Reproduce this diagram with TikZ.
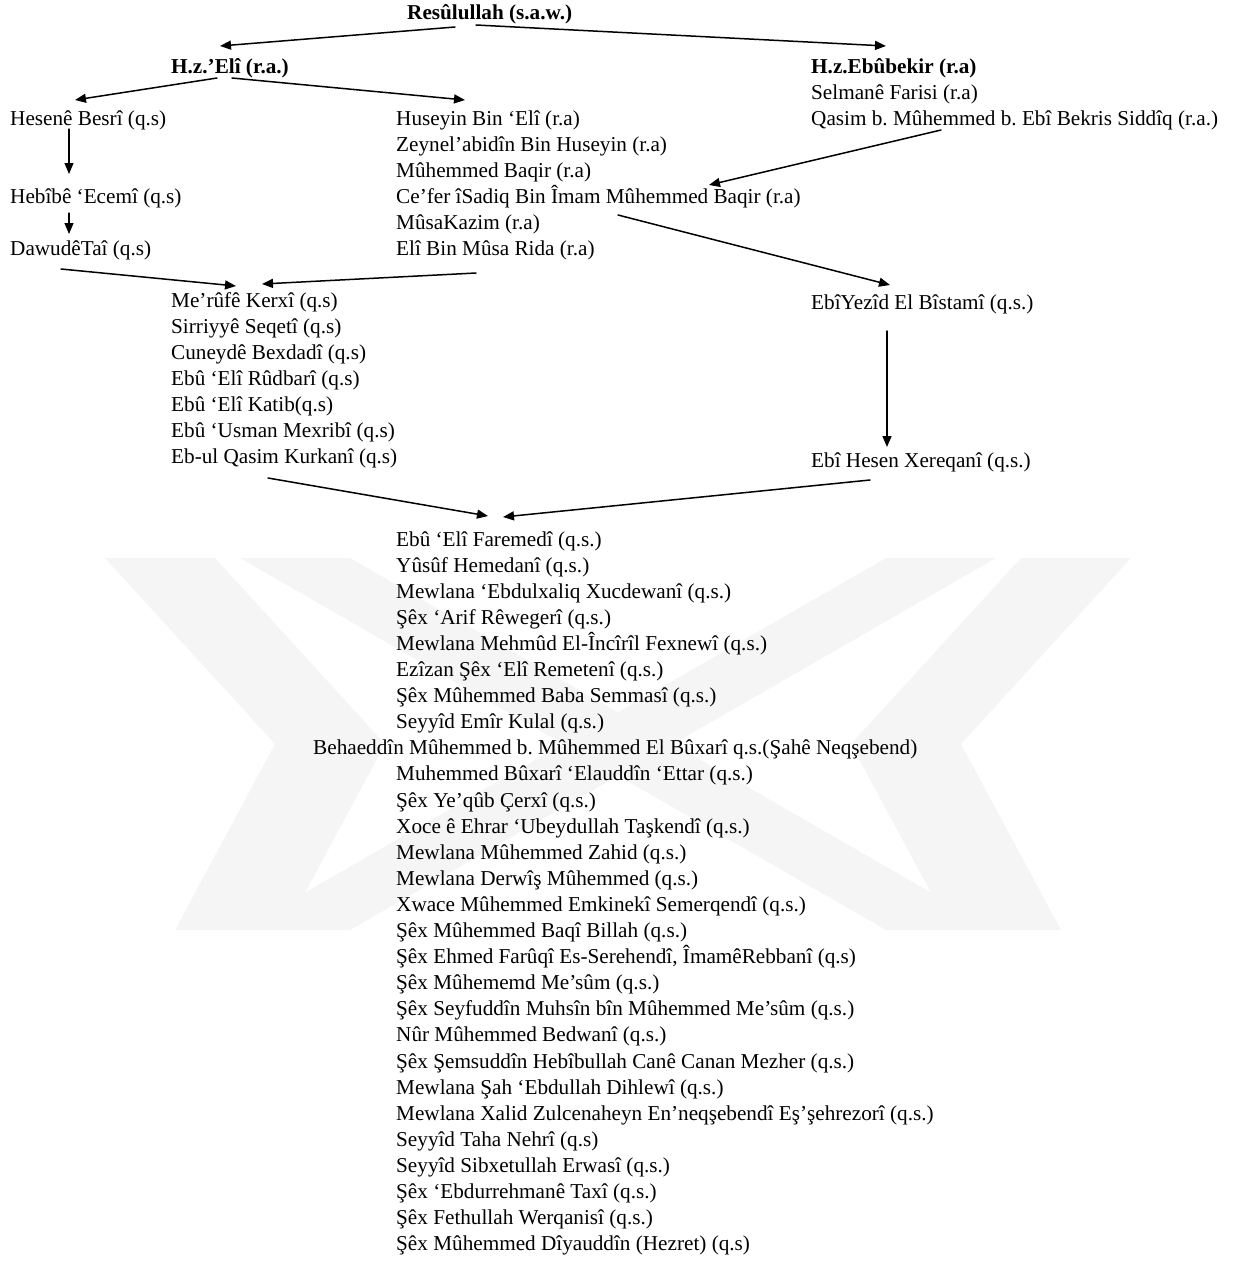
\documentclass[tikz,border=0pt]{standalone}
\usepackage{fontspec}
\setmainfont{Liberation Serif}
\usetikzlibrary{arrows.meta}
\frenchspacing

\begin{document}
\begin{tikzpicture}[x=1pt, y=-1pt, line cap=round, line join=round,
  entry/.style={anchor=base west, inner sep=0pt, align=left,
    font=\fontsize{21.2}{26.1}\selectfont},
  head/.style={entry, font=\fontsize{21.2}{26.1}\selectfont\bfseries},
  link/.style={-{Triangle[length=11pt, width=9pt]}, line width=1.5pt}]
  \useasboundingbox (0,0) rectangle (1236,1267);

  % Watermark
  \begin{scope}[black!4]
    \fill (105,558) -- (215,558) -- (385,744) -- (285,930) -- (175,930) -- (275,744) -- cycle;
    \fill (1131,558) -- (1021,558) -- (851,744) -- (951,930) -- (1061,930) -- (961,744) -- cycle;
    \fill (240,558) -- (350,558) -- (996,930) -- (886,930) -- cycle;
    \fill (996,558) -- (886,558) -- (240,930) -- (350,930) -- cycle;
  \end{scope}

  % Names (multi-line nodes sit on the baseline of their last line)
  \node[head] (rasul) at (407,19) {Resûlullah (s.a.w.)};
  \node[head] (eli) at (171,73) {H.z.’Elî (r.a.)};
  \node[entry] (ebubekir) at (811,125.2) {\textbf{H.z.Ebûbekir (r.a)}\\
    Selmanê Farisi (r.a)\\
    Qasim b. Mûhemmed b. Ebî Bekris Siddîq (r.a.)};
  \node[entry] (hesen) at (10,125) {Hesenê Besrî (q.s)};
  \node[entry] (hebib) at (10,203) {Hebîbê ‘Ecemî (q.s)};
  \node[entry] (dawud) at (10,255) {DawudêTaî (q.s)};
  \node[entry] (huseyin) at (396,255.5) {Huseyin Bin ‘Elî (r.a)\\
    Zeynel’abidîn Bin Huseyin (r.a)\\
    Mûhemmed Baqir (r.a)\\
    Ce’fer îSadiq Bin Îmam Mûhemmed Baqir (r.a)\\
    MûsaKazim (r.a)\\
    Elî Bin Mûsa Rida (r.a)};
  \node[entry] (meruf) at (171,463.6) {Me’rûfê Kerxî (q.s)\\
    Sirriyyê Seqetî (q.s)\\
    Cuneydê Bexdadî (q.s)\\
    Ebû ‘Elî Rûdbarî (q.s)\\
    Ebû ‘Elî Katib(q.s)\\
    Ebû ‘Usman Mexribî (q.s)\\
    Eb-ul Qasim Kurkanî (q.s)};
  \node[entry] (bistami) at (811,309) {EbîYezîd El Bîstamî (q.s.)};
  \node[entry] (xereqani) at (811,467) {Ebî Hesen Xereqanî (q.s.)};
  \node[entry] (silsile) at (396,1250.7) {Ebû ‘Elî Faremedî (q.s.)\\
    Yûsûf Hemedanî (q.s.)\\
    Mewlana ‘Ebdulxaliq Xucdewanî (q.s.)\\
    Şêx ‘Arif Rêwegerî (q.s.)\\
    Mewlana Mehmûd El-Încîrîl Fexnewî (q.s.)\\
    Ezîzan Şêx ‘Elî Remetenî (q.s.)\\
    Şêx Mûhemmed Baba Semmasî (q.s.)\\
    Seyyîd Emîr Kulal (q.s.)\\
    \hspace*{-83pt}Behaeddîn Mûhemmed b. Mûhemmed El Bûxarî q.s.(Şahê Neqşebend)\\
    Muhemmed Bûxarî ‘Elauddîn ‘Ettar (q.s.)\\
    Şêx Ye’qûb Çerxî (q.s.)\\
    Xoce ê Ehrar ‘Ubeydullah Taşkendî (q.s.)\\
    Mewlana Mûhemmed Zahid (q.s.)\\
    Mewlana Derwîş Mûhemmed (q.s.)\\
    Xwace Mûhemmed Emkinekî Semerqendî (q.s.)\\
    Şêx Mûhemmed Baqî Billah (q.s.)\\
    Şêx Ehmed Farûqî Es-Serehendî, ÎmamêRebbanî (q.s)\\
    Şêx Mûhememd Me’sûm (q.s.)\\
    Şêx Seyfuddîn Muhsîn bîn Mûhemmed Me’sûm (q.s.)\\
    Nûr Mûhemmed Bedwanî (q.s.)\\
    Şêx Şemsuddîn Hebîbullah Canê Canan Mezher (q.s.)\\
    Mewlana Şah ‘Ebdullah Dihlewî (q.s.)\\
    Mewlana Xalid Zulcenaheyn En’neqşebendî Eş’şehrezorî (q.s.)\\
    Seyyîd Taha Nehrî (q.s)\\
    Seyyîd Sibxetullah Erwasî (q.s.)\\
    Şêx ‘Ebdurrehmanê Taxî (q.s.)\\
    Şêx Fethullah Werqanisî (q.s.)\\
    Şêx Mûhemmed Dîyauddîn (Hezret) (q.s)};

  % Resûlullah
  \draw[link] ([shift={(48,8)}]rasul.base west) -- ([shift={(49,-27)}]eli.base west);
  \draw[link] ([shift={(69,6)}]rasul.base west) -- ([shift={(75,-79.2)}]ebubekir.base west);

  % H.z. 'Elî
  \draw[link] ([shift={(46,5)}]eli.base west) -- ([shift={(65,-25)}]hesen.base west);
  \draw[link] ([shift={(61,5)}]eli.base west) -- ([shift={(69,-155.5)}]huseyin.base west);

  % Left column
  \draw[link, line width=1.1pt] ([shift={(59,4)}]hesen.base west) -- ([shift={(59,-29)}]hebib.base west);
  \draw[link, line width=1.1pt] ([shift={(59,10)}]hebib.base west) -- ([shift={(59,-21)}]dawud.base west);

  % Ebûbekir line
  \draw[link] ([shift={(130,4.8)}]ebubekir.base west) -- ([shift={(313,-70.5)}]huseyin.base west);
  \draw[link] ([shift={(222,-40.5)}]huseyin.base west) -- ([shift={(79,-24)}]bistami.base west);
  \draw[link] ([shift={(76,22)}]bistami.base west) -- ([shift={(76,-20)}]xereqani.base west);

  % Me'rûfê Kerxî
  \draw[link] ([shift={(51,14)}]dawud.base west) -- ([shift={(65,-177.6)}]meruf.base west);
  \draw[link] ([shift={(80,17.5)}]huseyin.base west) -- ([shift={(91,-179.6)}]meruf.base west);

  % Ebû 'Elî Faremedî
  \draw[link] ([shift={(97,14.4)}]meruf.base west) -- ([shift={(92,-734.7)}]silsile.base west);
  \draw[link] ([shift={(59,13)}]xereqani.base west) -- ([shift={(107,-733.7)}]silsile.base west);
\end{tikzpicture}
\end{document}
